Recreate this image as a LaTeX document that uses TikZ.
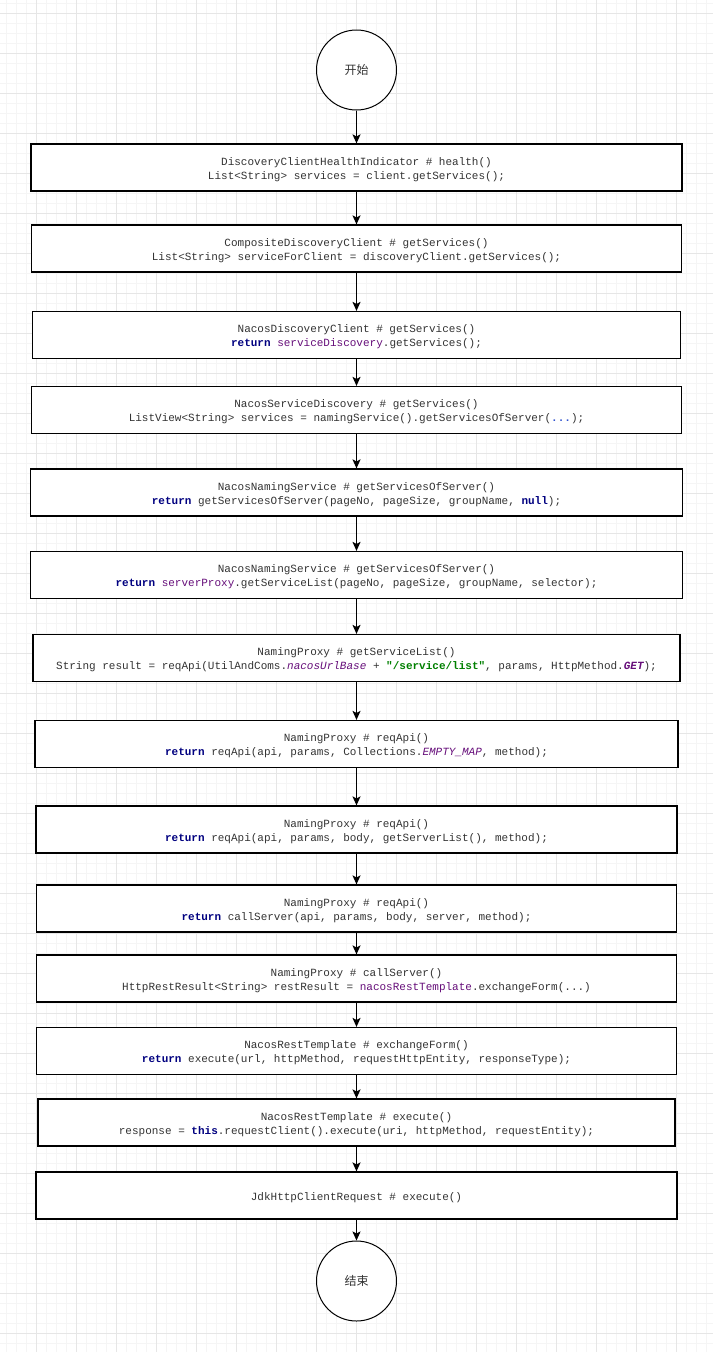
\documentclass[tikz,border=0pt]{standalone}
\usepackage{fontspec}
\usetikzlibrary{arrows.meta}
\newfontfamily\codefont{Liberation Mono}
\newfontfamily\cjkfont{Noto Sans CJK SC}
\definecolor{txt}{HTML}{333333}
\definecolor{kwc}{HTML}{000080}
\definecolor{fldc}{HTML}{660E7A}
\definecolor{strc}{HTML}{008000}
\definecolor{foldc}{HTML}{2F52D0}
\definecolor{gridmin}{HTML}{F5F5F5}
\definecolor{gridmaj}{HTML}{E6E6E6}
\newcommand{\kw}[1]{{\color{kwc}\bfseries #1}}
\newcommand{\fld}[1]{{\color{fldc}#1}}
\newcommand{\sfld}[1]{{\color{fldc}\itshape #1}}
\newcommand{\strl}[1]{{\color{strc}\bfseries #1}}
\newcommand{\fold}[1]{{\color{foldc}\bfseries #1}}
\newcommand{\stepnode}[4]{%
  \node[stepbox,minimum width=#2] (#1) at (#3) {};
  \node[codetext] (#1t) at ([yshift=-2pt]#1.center) {#4};}
\begin{document}
\begin{tikzpicture}[x=1pt,y=-1pt,
  stepbox/.style={draw=black,line width=1.2pt,fill=white,minimum height=47pt,inner sep=0pt},
  codetext/.style={inner sep=0pt,align=center,text=txt,font=\codefont\fontsize{11}{14}\selectfont},
  termnode/.style={draw=black,line width=1pt,fill=white,circle,minimum size=80pt,inner sep=0pt,
    text=txt,font=\cjkfont\fontsize{12}{14}\selectfont},
  flow/.style={draw=black,line width=1.1pt,-{Stealth[length=9pt,width=8pt,inset=2pt]}}]
\useasboundingbox (0,0) rectangle (713,1352);
\fill[white] (0,0) rectangle (713,1352);
% grid
\foreach \x in {6.5,16.5,...,713} \draw[gridmin,line width=0.8pt] (\x,0) -- (\x,1352);
\foreach \y in {3.3,13.3,...,1352} \draw[gridmin,line width=0.8pt] (0,\y) -- (713,\y);
\foreach \x in {36.5,76.5,...,713} \draw[gridmaj,line width=0.9pt] (\x,0) -- (\x,1352);
\foreach \y in {13.3,53.3,...,1352} \draw[gridmaj,line width=0.9pt] (0,\y) -- (713,\y);
% nodes
\node[termnode] (start) at (356.5,70) {开始};
\stepnode{n1}{651pt}{356.5,167.5}
  {DiscoveryClientHealthIndicator \# health()\\List<String> services = client.getServices();}
\stepnode{n2}{650pt}{356.5,248.5}
  {CompositeDiscoveryClient \# getServices()\\List<String> serviceForClient = discoveryClient.getServices();}
\stepnode{n3}{648pt}{356.5,335}
  {NacosDiscoveryClient \# getServices()\\\kw{return} \fld{serviceDiscovery}.getServices();}
\stepnode{n4}{650pt}{356.5,410}
  {NacosServiceDiscovery \# getServices()\\ListView<String> services = namingService().getServicesOfServer(\fold{...});}
\stepnode{n5}{652pt}{356.5,492.5}
  {NacosNamingService \# getServicesOfServer()\\\kw{return} getServicesOfServer(pageNo, pageSize, groupName, \kw{null});}
\stepnode{n6}{652pt}{356.5,575}
  {NacosNamingService \# getServicesOfServer()\\\kw{return} \fld{serverProxy}.getServiceList(pageNo, pageSize, groupName, selector);}
\stepnode{n7}{647pt}{356.5,658}
  {NamingProxy \# getServiceList()\\String result = reqApi(UtilAndComs.\sfld{nacosUrlBase} + \strl{"/service/list"}, params, HttpMethod.\sfld{\bfseries GET});}
\stepnode{n8}{643pt}{356.5,744}
  {NamingProxy \# reqApi()\\\kw{return} reqApi(api, params, Collections.\sfld{EMPTY\_MAP}, method);}
\stepnode{n9}{641pt}{356.5,829.5}
  {NamingProxy \# reqApi()\\\kw{return} reqApi(api, params, body, getServerList(), method);}
\stepnode{n10}{640pt}{356.5,908.5}
  {NamingProxy \# reqApi()\\\kw{return} callServer(api, params, body, server, method);}
\stepnode{n11}{640pt}{356.5,978.5}
  {NamingProxy \# callServer()\\HttpRestResult<String> restResult = \fld{nacosRestTemplate}.exchangeForm(...)}
\stepnode{n12}{640pt}{356.5,1051}
  {NacosRestTemplate \# exchangeForm()\\\kw{return} execute(url, httpMethod, requestHttpEntity, responseType);}
\stepnode{n13}{637pt}{356.5,1122.5}
  {NacosRestTemplate \# execute()\\response = \kw{this}.requestClient().execute(uri, httpMethod, requestEntity);}
\stepnode{n14}{641pt}{356.5,1195.5}
  {JdkHttpClientRequest \# execute()}
\node[termnode] (end) at (356.5,1281) {结束};
% connectors
\draw[flow] (start) -- (n1);
\draw[flow] (n1) -- (n2);
\draw[flow] (n2) -- (n3);
\draw[flow] (n3) -- (n4);
\draw[flow] (n4) -- (n5);
\draw[flow] (n5) -- (n6);
\draw[flow] (n6) -- (n7);
\draw[flow] (n7) -- (n8);
\draw[flow] (n8) -- (n9);
\draw[flow] (n9) -- (n10);
\draw[flow] (n10) -- (n11);
\draw[flow] (n11) -- (n12);
\draw[flow] (n12) -- (n13);
\draw[flow] (n13) -- (n14);
\draw[flow] (n14) -- (end);
\end{tikzpicture}
\end{document}
